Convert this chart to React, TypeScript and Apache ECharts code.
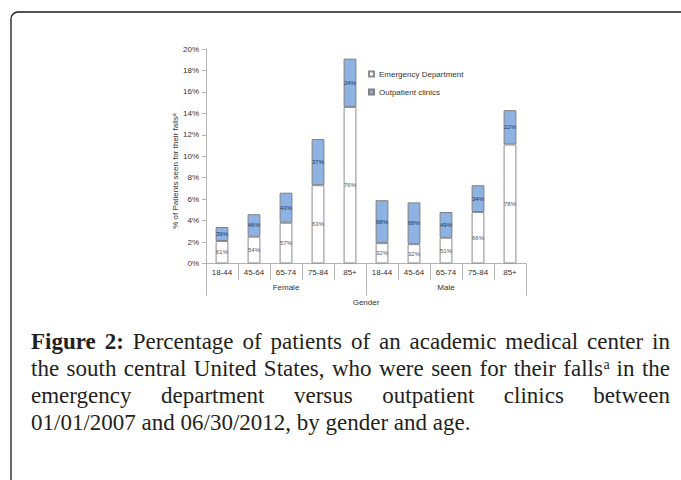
import React, { useEffect, useRef } from "react";
import * as echarts from "echarts";

const CATEGORIES = ["18-44", "45-64", "65-74", "75-84", "85+", "18-44", "45-64", "65-74", "75-84", "85+"];
const GROUPS = ["Female", "Male"];
const ED_VALUES = [2.1, 2.5, 3.8, 7.3, 14.6, 1.9, 1.8, 2.4, 4.8, 11.1];
const OP_VALUES = [1.3, 2.1, 2.8, 4.3, 4.5, 4.0, 3.9, 2.4, 2.5, 3.2];
const ED_SHARE = [61, 54, 57, 63, 76, 32, 32, 51, 66, 78];
const OP_SHARE = [39, 46, 43, 37, 24, 68, 68, 49, 34, 22];
const Y_MIN = 0;
const Y_MAX = 20;
const Y_STEP = 2;
const SERIES_NAMES = ["Emergency Department", "Outpatient clinics"];
const Y_NAME = "% of Patients seen for their falls";
const X_NAME = "Gender";
const CAPTION_LINES = [
  "**Figure **2: Percentage of patients of an academic medical center in",
  "the south central United States, who were seen for their falls^a in the",
  "emergency department versus outpatient clinics between",
  "01/01/2007 and 06/30/2012, by gender and age.",
];

const SANS = "'Liberation Sans', Arial, sans-serif";
const SERIF = "'Liberation Serif', 'Times New Roman', serif";

function buildCaption(): any[] {
  const canvas = document.createElement("canvas");
  const ctx = canvas.getContext("2d")!;
  const size = 23;
  const supSize = 14;
  const normalFont = `${size}px ${SERIF}`;
  const boldFont = `bold ${size}px ${SERIF}`;
  const supFont = `${supSize}px ${SERIF}`;
  const measure = (t: string, f: string) => {
    ctx.font = f;
    return ctx.measureText(t).width;
  };
  const left = 31;
  const right = 670;
  const baseline0 = 349.5;
  const lineH = 27;
  const els: any[] = [];
  CAPTION_LINES.forEach((line, li) => {
    const words = line.split(" ").map((w) => {
      let bold = false;
      let txt = w;
      if (txt.startsWith("**")) {
        bold = true;
        txt = txt.replace(/\*\*/g, "");
      }
      let sup = "";
      if (txt.includes("^")) {
        const p = txt.split("^");
        txt = p[0];
        sup = p[1];
      }
      const font = bold ? boldFont : normalFont;
      const mw = measure(txt, font);
      const sw = sup ? measure(sup, supFont) : 0;
      return { txt, sup, font, mw, w: mw + sw, bold };
    });
    const sum = words.reduce((a, b) => a + b.w, 0);
    const justify = li < CAPTION_LINES.length - 1;
    const gap = justify ? (right - left - sum) / (words.length - 1) : measure(" ", normalFont);
    let x = left;
    const base = baseline0 + li * lineH;
    words.forEach((wd) => {
      els.push({
        type: "text",
        x,
        y: base - size * 0.3375,
        style: {
          text: wd.txt,
          font: wd.font,
          fill: "#231f20",
          align: "left",
          verticalAlign: "middle",
        },
      });
      if (wd.sup) {
        els.push({
          type: "text",
          x: x + wd.mw + 0.5,
          y: base - 7 - supSize * 0.3375,
          style: {
            text: wd.sup,
            font: supFont,
            fill: "#231f20",
            align: "left",
            verticalAlign: "middle",
          },
        });
      }
      x += wd.w + gap;
    });
  });
  return els;
}

export default function App() {
  const ref = useRef<HTMLDivElement>(null);
  useEffect(() => {
    if (!ref.current) return;
    const chart = echarts.init(ref.current, null, { renderer: "svg" });
    const axisGrey = "#b4b4b4";
    const textGrey = "#333333";
    const option: any = {
      animation: false,
      backgroundColor: "#ffffff",
      grid: { left: 206, right: 155, top: 49, bottom: 216.5, containLabel: false },
      legend: {
        data: SERIES_NAMES,
        orient: "vertical",
        left: 368,
        top: 69,
        padding: 0,
        itemWidth: 5,
        itemHeight: 5,
        itemGap: 8,
        icon: "rect",
        textStyle: { fontSize: 8, fontFamily: SANS, color: textGrey, lineHeight: 10 },
      },
      xAxis: [
        {
          type: "category",
          data: CATEGORIES,
          axisLine: { show: true, lineStyle: { color: axisGrey, width: 1 } },
          axisTick: { show: true, interval: 0, length: 16, lineStyle: { color: axisGrey } },
          axisLabel: { interval: 0, margin: 5, fontSize: 8, fontFamily: SANS, color: textGrey },
          splitLine: { show: false },
        },
        {
          type: "category",
          data: GROUPS,
          position: "bottom",
          offset: 0,
          axisLine: { show: false },
          axisTick: { show: true, interval: 0, length: 32, lineStyle: { color: axisGrey } },
          axisLabel: { interval: 0, margin: 20, fontSize: 8, fontFamily: SANS, color: textGrey },
          name: X_NAME,
          nameLocation: "middle",
          nameGap: 35,
          nameTextStyle: { fontSize: 8, fontFamily: SANS, color: textGrey },
          splitLine: { show: false },
        },
      ],
      yAxis: {
        type: "value",
        min: Y_MIN,
        max: Y_MAX,
        interval: Y_STEP,
        axisLine: { show: true, lineStyle: { color: axisGrey } },
        axisTick: { show: true, length: 4, inside: false, lineStyle: { color: axisGrey } },
        axisLabel: { margin: 7, fontSize: 8, fontFamily: SANS, color: textGrey, formatter: (v: number) => `${v}%` },
        splitLine: { show: false },
      },
      series: [
        {
          name: SERIES_NAMES[0],
          type: "bar",
          stack: "total",
          xAxisIndex: 0,
          barWidth: "40%",
          data: ED_VALUES,
          itemStyle: { color: "#ffffff", borderColor: "#8c8c8c", borderWidth: 1 },
          label: {
            show: true,
            position: "inside",
            fontSize: 6,
            fontFamily: SANS,
            color: "#555555",
            formatter: (p: any) => `${ED_SHARE[p.dataIndex]}%`,
          },
        },
        {
          name: SERIES_NAMES[1],
          type: "bar",
          stack: "total",
          xAxisIndex: 0,
          barWidth: "40%",
          data: OP_VALUES,
          itemStyle: { color: "#8db3e2", borderColor: "#808080", borderWidth: 1 },
          label: {
            show: true,
            position: "inside",
            fontSize: 6,
            fontFamily: SANS,
            color: "#1f3350",
            formatter: (p: any) => `${OP_SHARE[p.dataIndex]}%`,
          },
        },
      ],
      graphic: [
        {
          type: "rect",
          shape: { x: 11, y: 12, width: 720, height: 520, r: 7 },
          style: { fill: "none", stroke: "#1a1a1a", lineWidth: 1.3 },
          silent: true,
        },
        {
          type: "text",
          x: 175.5,
          y: 171,
          rotation: Math.PI / 2,
          style: {
            text: Y_NAME + "ᵃ",
            font: `8px ${SANS}`,
            fill: textGrey,
            align: "center",
            verticalAlign: "middle",
          },
        },
        ...buildCaption(),
      ],
    };
    chart.setOption(option);
    return () => chart.dispose();
  }, []);
  return (
    <div
      ref={ref}
      style={{ position: "absolute", left: 0, top: 0, width: 681, height: 480 }}
    />
  );
}
